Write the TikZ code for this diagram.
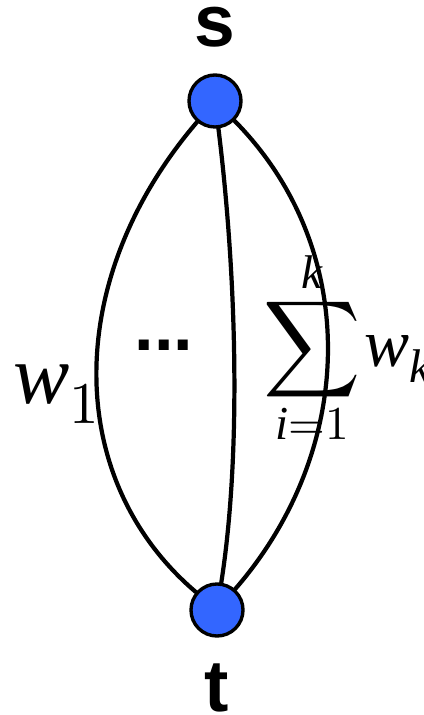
\documentclass[tikz,border=0pt]{standalone}
\usepackage{unicode-math}
\setmathfont{Latin Modern Math}
\setmathfont{Liberation Serif Italic}[range=it]
\newfontfamily\labelfont{Liberation Sans}
\usepackage{tikz}
\definecolor{vertexblue}{HTML}{3366FF}

\begin{document}
\begin{tikzpicture}[x=0.025cm,y=-0.025cm,
  vertex/.style={circle,draw=black,line width=2.4pt,fill=vertexblue,minimum size=1.3cm,inner sep=0pt},
  path/.style={line width=3pt,line cap=round},
  terminal/.style={font=\labelfont\bfseries\fontsize{52}{56}\selectfont,inner sep=0pt}]
\useasboundingbox (0,0) rectangle (423,715);

\node[vertex] (s) at (215,101) {};
\node[vertex] (t) at (217,610) {};
\node[terminal] (slabel) at (215,27) {s};
\node[terminal] (tlabel) at (217,688) {t};

\draw[path] (s) .. controls (62,280) and (64,480) .. (t);
\draw[path] (s) .. controls (236,270) and (242,450) .. (t);
\draw[path] (s) .. controls (362,250) and (356,450) .. (t);

\node[anchor=base west,inner sep=0pt,font=\fontsize{60}{64}\selectfont] (wone) at (13,403) {$w_1$};
\node[inner sep=0pt,font=\labelfont\bfseries\fontsize{50}{55}\selectfont] (dots) at (164,345) {...};
\node[anchor=base west,inner sep=0pt,font=\fontsize{48}{52}\selectfont] (wsum) at (263,366) {$\displaystyle\sum_{i=1}^{k}\mkern-2mu w_k$};
\end{tikzpicture}
\end{document}
